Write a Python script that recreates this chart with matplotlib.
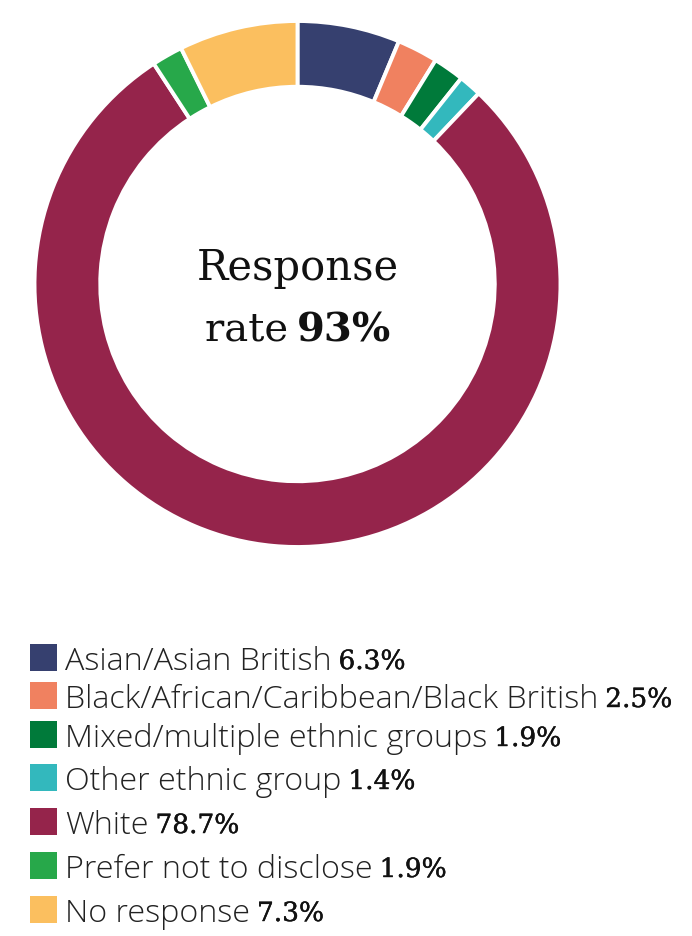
import matplotlib
matplotlib.use("Agg")
import matplotlib.pyplot as plt
import matplotlib.patheffects as pe

categories = [
    "Asian/Asian British",
    "Black/African/Caribbean/Black British",
    "Mixed/multiple ethnic groups",
    "Other ethnic group",
    "White",
    "Prefer not to disclose",
    "No response",
]
shares = [6.3, 2.5, 1.9, 1.4, 78.7, 1.9, 7.3]
value_labels = ["6.3%", "2.5%", "1.9%", "1.4%", "78.7%", "1.9%", "7.3%"]
colors = ["#36406f", "#f08160", "#007a3a", "#33b8bd", "#95244b", "#27a84a", "#fbbf5f"]
response_rate = "93%"

W, H = 692, 937
fig = plt.figure(figsize=(W / 100, H / 100), dpi=100)
fig.patch.set_facecolor("white")

# donut geometry in pixels
cx, cy, R = 297.5, 285.0, 263.0
ax = fig.add_axes([(cx - R) / W, (H - cy - R) / H, 2 * R / W, 2 * R / H])
ax.pie(shares, colors=colors, startangle=90, counterclock=False,
       radius=1.0, wedgeprops=dict(width=0.25, edgecolor="white", linewidth=2.8))
ax.set_xlim(-1, 1)
ax.set_ylim(-1, 1)
ax.set_aspect("equal")
ax.axis("off")

serif = ["DejaVu Serif"]
ax.text(0, 0.065, "Response", ha="center", va="center", fontsize=30,
        family=serif, color="#111111")

renderer = fig.canvas.get_renderer()

def fig_xy(x, y):
    return (x / W, 1 - y / H)

# second line: "rate " regular + "93%" bold, centred together
t1 = fig.text(*fig_xy(0, 330), "rate ", fontsize=29, family=serif,
              color="#111111", va="center", ha="left")
t2 = fig.text(*fig_xy(0, 330), response_rate, fontsize=29, family=serif,
              weight="bold", color="#111111", va="center", ha="left")
w1 = t1.get_window_extent(renderer).width
w2 = t2.get_window_extent(renderer).width
start = cx - (w1 + w2) / 2 + 3
t1.set_x(start / W)
t2.set_x((start + w1 - 4) / W)

# legend rows (square top edges in pixels)
row_top = [645, 683, 722, 765, 809, 853, 897]
sq = 27
heavier = [pe.withStroke(linewidth=0.3, foreground="#111111")]
for name, val, col, top in zip(categories, value_labels, colors, row_top):
    fig.patches.append(plt.Rectangle((30 / W, 1 - (top + sq) / H), sq / W, sq / H,
                                     transform=fig.transFigure, color=col, lw=0))
    base = top + sq - 2
    lt = fig.text(*fig_xy(65, base), name, fontsize=23.2, family=["Open Sans"],
                  weight="light", color="#222222", va="baseline", ha="left")
    lw = lt.get_window_extent(renderer).width
    fig.text(*fig_xy(65 + lw + 7, base), val, fontsize=19, family=serif,
             color="#111111", va="baseline", ha="left", path_effects=heavier)

fig.savefig("out.png", dpi=100, facecolor="white")
